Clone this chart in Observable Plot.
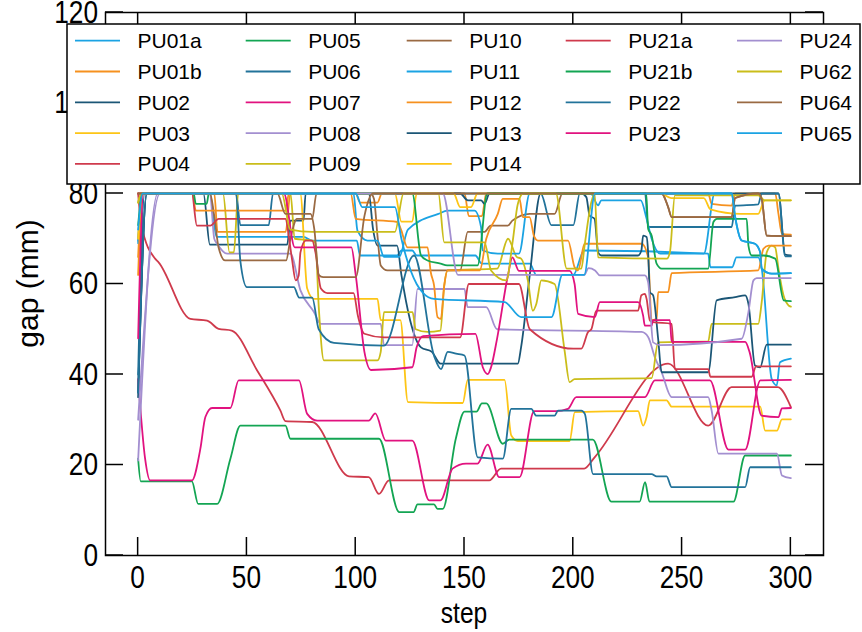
<!DOCTYPE html>
<html><head><meta charset="utf-8">
<script src="https://cdn.jsdelivr.net/npm/d3@7"></script>
<script src="https://cdn.jsdelivr.net/npm/@observablehq/plot@0.6"></script>
<style>
body{margin:0;background:#fff}
#chart{position:relative;width:862px;height:632px}
</style>
</head><body><div id="chart"></div>
<script>
// ---- data: [step, gap (mm)] key points ----
const PU01a = [[0,69.5],[2,80],[33,80],[36,70.4],[76,70.4],[80,69.6],[100.5,69.6],[102,66.3],[119,66.3],[121,67.4],[126,67.4],[128,66.3],[155,66.3],[158,64.5],[180,64.5],[183,62],[200,62],[205,67.4],[262,66.7],[263,63.7],[273,63.7],[275,65.9],[285,65.9],[286.6,63.4],[291.2,39],[293.5,37.6],[295,42.7],[300,43.5]];
const PU01b = [[0,66],[2,80],[35,80],[36.5,71.5],[67.8,71.5],[70,80],[100,80],[102,78],[110,78],[112,80],[150,80],[152,75],[158,75],[160,80],[262,80],[263.6,77.7],[272.8,77.3],[274.4,80],[292.8,80],[294.3,75.5],[295.9,71.1],[300,70.9]];
const PU02 = [[0,36],[4,80],[30,80],[33,68.7],[68.5,68.7],[70,74],[76,74],[77,80],[106,80],[108,72],[110,68.5],[119,68.5],[121,62],[125,52],[130,46],[135,45],[139,42.4],[174.5,42.4],[176,46],[180,62],[185,80],[294.3,80],[297.4,66.5],[300,66.3]];
const PU03 = [[0,70],[2,80],[74.5,80],[77.7,59],[80.8,56.7],[110,56.7],[111.5,52],[120.5,52],[124,33.9],[149.2,33.7],[151.5,38.8],[168.4,38.8],[171.5,26.5],[174.5,25.3],[198.3,25.3],[200.7,31.7],[229.8,31.9],[232.1,28.7],[233.7,30.6],[235.2,34.3],[242.9,34.3],[245.2,32.9],[285.9,32.9],[288.2,27.6],[293.6,27.6],[295.9,30.1],[300,30.1]];
const PU04 = [[0,80],[1.5,73],[7.8,65.6],[9.4,64.8],[24,52.3],[31.7,51.9],[37,50.1],[43,49.7],[54.7,40.9],[65.4,32],[67.7,29.7],[80,29.5],[96.9,17.5],[106,17.3],[110.7,13.6],[115.3,16.6],[161.4,16.6],[166.8,19.2],[205,19.2],[209.8,21.7],[243.6,42.4],[262,28.7],[272.8,37.2],[294,37.2],[300,32.8]];
const PU05 = [[0,21.4],[1.2,16.4],[24.7,16.4],[27.6,11.4],[36.3,11.4],[42.4,21.4],[47,28.7],[67.7,28.7],[70,25.8],[110.7,25.8],[120,9.6],[126.6,9.6],[128.4,11.3],[136,11.3],[137.6,10.3],[140,10.3],[146,25.8],[150,31.8],[155.5,31.8],[158,33.6],[160,33.6],[167.6,24.7],[170.6,25.6],[209,25.6],[217.5,11.9],[230.5,11.9],[233,16.2],[235,11.9],[273.6,11.9],[279,22.1],[300,22.1]];
const PU06 = [[0,40],[3,80],[45,80],[47,73],[60,73],[62,80],[185,80],[190,73],[200,73],[203,80],[233,80],[234.4,72.6],[272.8,72.6],[274.4,77.3],[285,77.6],[286.6,80],[294.3,80],[297.4,66.1],[300,66.1]];
const PU07 = [[0,39],[3.2,21.4],[5.5,16.6],[24.7,16.6],[28.6,23.6],[30.9,30.6],[34,32.6],[42.4,32.6],[46.2,38.7],[73.9,38.7],[77.7,31.3],[82.3,29.8],[106,29.8],[109,31.4],[113.8,25.4],[126,25.4],[133.8,12.2],[139,12.2],[144.5,19.2],[150.7,20.3],[156,20.3],[160.6,24.5],[166,17.3],[175.3,17.3],[182,31.9],[192,31.9],[197.5,32.4],[201.4,35],[232.9,35],[237.5,38.7],[262.8,38.7],[271.3,23.4],[279,23.4],[286,38.7],[300,38.8]];
const PU08 = [[0,21],[9,80],[33,80],[35,70],[36.3,68.9],[40.9,66.7],[70,66.7],[74.6,58.6],[80.8,53.8],[83.9,51.2],[111.5,51.2],[113,46.5],[126,46.5],[128.4,58.9],[150,58.9],[151.4,54.9],[160,54.9],[165,50],[231.4,49.4],[234.4,48.3],[237.5,43.8],[240.6,40.5],[245.2,35],[262,35],[263.6,32],[266.7,22.5],[293.6,22.5],[295.9,17.7],[300,17.1]];
const PU09 = [[0,78],[1.5,80],[39,80],[42,67],[44,67],[46,80],[70,80],[72,70],[80,69.6],[81.5,69],[83,55],[85.4,43.1],[110,43.1],[111.5,45],[113,53.8],[126.1,53.8],[127.6,50],[133,49.4],[138.9,49.7],[140.7,59.7],[142.2,63],[165,63.4],[170,70],[174,66],[176,65.6],[179.1,60.8],[181.4,54.1],[183,55.6],[185.3,60.8],[191.4,60],[196,45.3],[198.3,38.3],[200.6,39],[236,39.2],[239,47.1],[262,47.3],[263.6,51.2],[285,51.2],[286.6,56],[288.9,67],[291.2,68.5],[292.8,68.1],[294.3,63.4],[296.6,57.5],[298.9,55.3],[300,55]];
const PU10 = [[0,80],[33,80],[35,75],[37,68],[40,65.2],[68,65.2],[70,70],[73,74.4],[80,74.4],[82,80],[106.9,80],[108.4,78.8],[110,70.7],[111.5,64.1],[114.6,63],[148,63],[151.5,71.5],[159.2,71.5],[162,72.9],[169.9,72.9],[172,74],[180,75.5],[191.4,75.5],[195,80],[240.6,80],[243.6,77],[245.2,74.8],[272.8,74.8],[274.4,79],[285,80],[286.6,78.8],[288.9,70.7],[300,70.6]];
const PU11 = [[0,69],[2,80],[99,80],[100.8,71.8],[105.4,69.6],[110,69.6],[113,66],[120,66],[124,72],[138,75.5],[142.2,76.2],[154.6,76.2],[157.6,72.6],[158.4,67.4],[165.3,66.7],[175,66.7],[180,80],[208,80],[211.4,77.4],[212.9,78.5],[231,78.5],[233.7,74.4],[236,70],[240,66.7],[260,66.7],[265,80],[272.8,80],[274.4,74.8],[277.4,69.6],[283.5,68.9],[285.9,67],[286.6,63.4],[291.2,62.3],[300,62.4]];
const PU12 = [[0,62],[2,80],[25,80],[26.5,76.2],[67.8,76.2],[69.3,80],[97.7,80],[100,74.4],[119.2,73.7],[120.7,72.2],[123.8,68.1],[133,68.1],[134.5,62.6],[136,59.7],[137.6,52.7],[139.1,52.3],[140.7,59.7],[142.2,63],[157,63],[160,70],[165.3,75.5],[167.6,78.8],[175.3,78.8],[176.8,74.8],[179.9,74.8],[182,70.5],[183.7,69.6],[197.6,69.6],[200.6,63.7],[202.2,63],[205.2,68.9],[231.4,68.9],[234.4,65.9],[236,52],[238.3,52.3],[239,58.2],[243.6,58.2],[245.2,62.4],[285,63],[287.4,67.8],[289.7,68.5],[300,68.5]];
const PU13 = [[0,35],[4,80],[148,80],[151.5,78.5],[157.6,78.5],[159.2,77.7],[161.5,80],[203.7,80],[206,79.2],[207.5,75.1],[209.8,74.4],[211.4,67],[212.9,66.3],[229.8,66.3],[231.3,67.4],[232.1,70.7],[233.7,70.4],[234.4,67],[235.2,58.2],[236.7,57.5],[239,47.9],[240.6,40.5],[262,40.5],[265.9,56.4],[274.4,57.1],[279,57.5],[280.5,55.6],[283.5,42],[285.9,41.6],[288.9,46.6],[300,46.6]];
const PU14 = [[0,70],[2,80],[118,80],[121,73.8],[126,73.8],[128,80],[145,80],[148,77],[153,77],[156,80],[240,80],[245,79],[260,79],[263,76.5],[277,75.5],[285,75.5],[288,78.5],[300,78.5]];
const PU21a = [[0,80],[24.7,80],[27,72.9],[33.2,72.9],[37,74.4],[67.8,74.4],[69.3,70.3],[70.8,65.2],[72.4,60.8],[73.8,61.9],[74.6,67],[77,69.6],[80,69.6],[81.5,67],[84,59],[87,58],[99,58],[101,53],[104,49],[113,48.2],[148,48.2],[152,60],[175,60],[180,50],[200,45.7],[203.7,45.7],[206.8,49.4],[208.3,50],[210.6,54.1],[229.8,54.1],[231.3,57.5],[232.9,57.8],[233.7,56.7],[235.2,51.9],[236.7,51.6],[245.2,51.2],[246.7,41.2],[262,41.2],[263,39.5],[282,39.5],[284,41.8],[300,41.8]];
const PU21b = [[0,73],[2,80],[25.5,80],[26.5,77.7],[31.5,77.7],[32.5,80],[126,80],[130,66.3],[133,65.2],[139,64.5],[142,64.1],[156,64.1],[160.5,80],[233.5,80],[234.4,72.2],[236,70.7],[238.3,64.5],[240.6,63.4],[262,63.4],[264.4,73.7],[266,74.4],[279.7,74.4],[280.5,68.5],[282,66.3],[287.4,66.3],[292.8,65.6],[296.7,56.4],[300,56.2]];
const PU22 = [[0,36],[4,80],[45,80],[47,65],[50,59.3],[71.6,59.3],[74,57],[80,57],[83,50],[90,47],[113,46.4],[126.8,66.3],[136.1,44],[139.2,41.2],[142.3,45],[146.1,44.6],[150,44.2],[156.1,21.7],[167.6,21.4],[171.5,32.4],[180.7,32.4],[183,30.9],[191.4,30.9],[193,32],[203.7,32],[205.3,31.3],[209.1,18],[236,18],[238.3,17.5],[242.9,17.5],[245.2,15.1],[279,15.1],[281.3,19.5],[300,19.5]];
const PU23 = [[0,48],[2.5,80],[67,80],[72,68.1],[98,68.1],[100,62],[104,45],[107,41],[126,41.6],[128,46],[131,48.5],[155,49],[158.4,41.6],[160.7,40.1],[162.2,41.6],[165,48],[170,62],[172,65.9],[175,62.9],[198.3,62.9],[200.6,60],[202.2,53.4],[209.9,52.7],[212.2,56],[229.8,56],[232.1,53],[232.9,50.8],[236,50.8],[236.7,52],[244.4,52],[245.2,47.2],[279,47.2],[281,45],[286.6,30.9],[294.3,30.6],[295.9,32.5],[300,32.6]];
const PU24 = [[0,30],[10,80],[140,80],[147,62],[205,62],[207,63.5],[210,63],[212.2,61.9],[232.9,61.9],[234.4,60.4],[236.7,47.1],[240,46.5],[277.4,47.9],[280.5,53.8],[282.8,60.8],[284.3,61.3],[300,61.3]];
const PU62 = [[0,78],[1.5,80],[66,80],[70,72],[80,71.5],[118,71.5],[122,80],[138,80],[140.7,69.2],[159.2,69.2],[162.2,63],[169.2,60.8],[172.2,69.6],[174.5,77.7],[177,80],[192,80],[197,63.4],[203.7,63.4],[205.2,68.5],[208.3,78.1],[209.8,80],[211.4,65.9],[243,65.6],[244.4,67],[246.7,79.6],[285,79.6],[288,78.5],[300,78.5]];
const PU64 = [[0,80],[64,80],[67.7,75.5],[79.2,75.5],[81,72],[83,62],[85,61.5],[100,61.5],[104,75],[108,80],[240.6,80],[243.6,77],[245.2,74.8],[272.8,74.8],[274.4,79],[285,80],[286.6,78.8],[288.9,70.7],[300,70.6]];
const PU65 = [[0,72],[2,80],[100,80],[103,77],[118,77],[121,70],[128,60],[131,58],[136,56.7],[168.4,56],[176,52.7],[190,52.7],[195,62],[205,62],[210,80],[272.8,80],[274.4,74.8],[277.4,69.6],[283.5,68.9],[285.9,67],[286.6,63.4],[291.2,62.3],[300,62.4]];

const names = ["PU01a","PU01b","PU02","PU03","PU04","PU05","PU06","PU07","PU08","PU09","PU10","PU11","PU12","PU13","PU14","PU21a","PU21b","PU22","PU23","PU24","PU62","PU64","PU65"];
const seriesValues = [PU01a,PU01b,PU02,PU03,PU04,PU05,PU06,PU07,PU08,PU09,PU10,PU11,PU12,PU13,PU14,PU21a,PU21b,PU22,PU23,PU24,PU62,PU64,PU65];
const palette = ["#1ba3e3","#f6911f","#1b5676","#fdc516","#cf3a4c","#13a553","#22739a","#e1127f","#a38fd0","#cabd1a","#9a6a43"];
const xTicks = [0,50,100,150,200,250,300];
const yTicks = [0,20,40,60,80,100,120];

const rows = names.flatMap((n, i) => seriesValues[i].map(([step, gap]) => ({name: n, step, gap})));
const colorRange = names.map((n, i) => palette[i % palette.length]);

const W = 862, H = 632;
const M = {left: 105, right: 39, top: 12, bottom: 77};
const font = "'Liberation Sans', Arial, Helvetica, sans-serif";

const chart = Plot.plot({
  width: W, height: H,
  marginLeft: M.left, marginRight: M.right, marginTop: M.top, marginBottom: M.bottom,
  style: {fontFamily: font, color: "black", background: "white", overflow: "visible"},
  x: {domain: [-15, 315], label: null, axis: null},
  y: {domain: [0, 120], label: null, axis: null},
  color: {domain: names, range: colorRange},
  marks: [
    Plot.line(rows, {x: "step", y: "gap", z: "name", stroke: "name", strokeWidth: 1.8, curve: "monotone-x"}),
    Plot.frame({stroke: "black", strokeWidth: 1.5})
  ]
});
document.getElementById("chart").appendChild(chart);

const svg = d3.select(chart);
const xs = chart.scale("x"), ys = chart.scale("y");
const x0 = M.left, x1 = W - M.right, y0 = H - M.bottom, y1 = M.top;
const TL = 18;
const tg = svg.append("g").attr("stroke", "black").attr("stroke-width", 1.5);
xTicks.forEach(t => {
  const px = xs.apply(t);
  tg.append("line").attr("x1", px).attr("x2", px).attr("y1", y0).attr("y2", y0 - TL);
  tg.append("line").attr("x1", px).attr("x2", px).attr("y1", y1).attr("y2", y1 + TL);
});
yTicks.forEach(t => {
  const py = ys.apply(t);
  tg.append("line").attr("x1", x0).attr("x2", x0 + TL).attr("y1", py).attr("y2", py);
  tg.append("line").attr("x1", x1).attr("x2", x1 - TL).attr("y1", py).attr("y2", py);
});

// tick labels (tall, narrow digits as in the reference)
const TF = 32, SX = 0.82;
const lab = svg.append("g").attr("font-family", font).attr("font-size", TF).attr("fill", "black");
xTicks.forEach(t => {
  lab.append("text").attr("transform", `translate(${xs.apply(t)},${y0 + 22}) scale(${SX},1)`)
    .attr("text-anchor", "middle").attr("dominant-baseline", "central").text(t);
});
yTicks.forEach(t => {
  lab.append("text").attr("transform", `translate(${x0 - 7},${ys.apply(t)}) scale(${SX},1)`)
    .attr("text-anchor", "end").attr("dominant-baseline", "central").text(t);
});

// axis titles
svg.append("text").attr("transform", `translate(${(x0 + x1) / 2},613) scale(${SX},1)`).attr("text-anchor", "middle")
  .attr("dominant-baseline", "central").attr("font-family", font).attr("font-size", 30).text("step");
svg.append("text").attr("transform", `translate(27,${(y0 + y1) / 2}) rotate(-90)`).attr("text-anchor", "middle")
  .attr("dominant-baseline", "central").attr("font-family", font).attr("font-size", 30).text("gap (mm)");

// legend (5 columns, column-major)
const colX = [75, 245.7, 406.7, 565.7, 737];
const colCounts = [5, 5, 5, 4, 4];
const rowY0 = 40.7, rowDY = 30.8;
const lg = svg.append("g");
lg.append("rect").attr("x", 67).attr("y", 24).attr("width", 793).attr("height", 160)
  .attr("fill", "white").attr("stroke", "black").attr("stroke-width", 1.5);
let k = 0;
colCounts.forEach((cnt, c) => {
  for (let r = 0; r < cnt; r++, k++) {
    const yy = rowY0 + r * rowDY;
    lg.append("line").attr("x1", colX[c]).attr("x2", colX[c] + 45).attr("y1", yy).attr("y2", yy)
      .attr("stroke", colorRange[k]).attr("stroke-width", 1.8);
    lg.append("text").attr("x", colX[c] + 62.5).attr("y", yy).attr("dominant-baseline", "central")
      .attr("text-anchor", "start").attr("font-family", font).attr("font-size", 21).attr("fill", "black").text(names[k]);
  }
});
</script>
</body></html>
